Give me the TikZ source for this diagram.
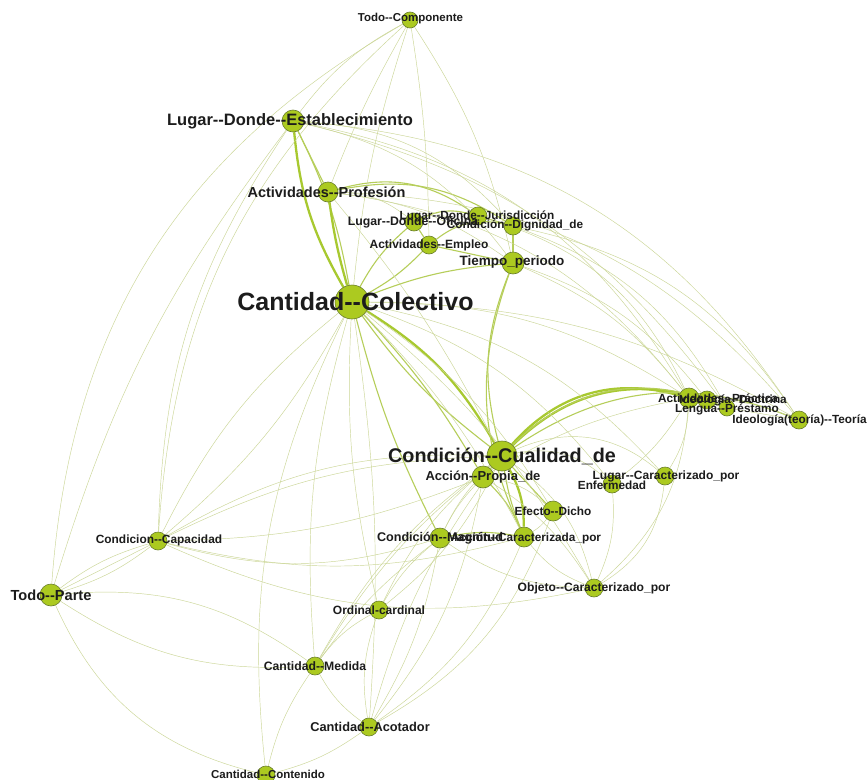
\documentclass[tikz,border=0pt]{standalone}
\usepackage{fontspec}
\setmainfont{Liberation Sans}
\pgfdeclarelayer{edges}
\pgfsetlayers{edges,main}

\definecolor{nodefill}{RGB}{172,202,32}
\definecolor{nodeline}{RGB}{105,125,45}
\definecolor{ethinc}{RGB}{203,214,150}
\definecolor{emidc}{RGB}{182,206,90}
\definecolor{ethickc}{RGB}{168,201,48}
\definecolor{labelc}{RGB}{28,28,28}

\tikzset{
  vtx/.style={circle,fill=nodefill,draw=nodeline,line width=0.6pt,inner sep=0pt,minimum size=#1},
  lbl/.style={font=\bfseries\fontsize{#1}{#1}\selectfont,text=labelc,inner sep=0pt},
  ethin/.style={draw=ethinc,line width=0.45pt},
  emid/.style={draw=emidc,line width=1.1pt},
  ethick/.style={draw=ethickc,line width=2.3pt},
}

\begin{document}
\begin{tikzpicture}[x=1pt,y=-1pt]
\useasboundingbox (0,0) rectangle (867,779);

% vertices
\node[vtx=16pt] (tc)   at (410,20)  {};
\node[vtx=22pt] (lde)  at (293,121) {};
\node[vtx=20pt] (ap)   at (328,192) {};
\node[vtx=18pt] (ldo)  at (414,222) {};
\node[vtx=18pt] (ldj)  at (478,216) {};
\node[vtx=18pt] (cdd)  at (513,226) {};
\node[vtx=18pt] (ae)   at (429,245) {};
\node[vtx=22pt] (tp)   at (513,263) {};
\node[vtx=34pt] (cc)   at (352,302) {};
\node[vtx=20pt] (apr)  at (689,398) {};
\node[vtx=18pt] (idc)  at (707,400) {};
\node[vtx=16pt] (lp)   at (727,408) {};
\node[vtx=18pt] (itt)  at (799,420) {};
\node[vtx=30pt] (ccu)  at (502,456) {};
\node[vtx=22pt] (apd)  at (483,477) {};
\node[vtx=18pt] (lcp)  at (665,476) {};
\node[vtx=18pt] (enf)  at (612,484) {};
\node[vtx=20pt] (ed)   at (553,511) {};
\node[vtx=20pt] (cm)   at (440,538) {};
\node[vtx=20pt] (acp)  at (524,537) {};
\node[vtx=18pt] (ocp)  at (594,588) {};
\node[vtx=18pt] (ccap) at (158,541) {};
\node[vtx=22pt] (tpa)  at (51,595)  {};
\node[vtx=18pt] (oc)   at (379,610) {};
\node[vtx=18pt] (cme)  at (315,666) {};
\node[vtx=18pt] (cac)  at (369,727) {};
\node[vtx=18pt] (cco)  at (266,775) {};

% connections
\begin{pgfonlayer}{edges}
\fill[white] (0,0) rectangle (867,779);
% heavy links
\draw[ethick] (lde) to[bend right=12] (cc);
\draw[emid]   (lde) to[bend left=8] (cc);
\draw[ethick] (ap) to[bend right=4] (cc);
\draw[ethick] (cc) to[bend left=14] (ccu);
\draw[emid]   (cc) to[bend right=8] (ccu);
\draw[ethick] (ccu) to[bend left=32] (apr);
\draw[ethick] (ccu) to[bend left=30] (idc);
\draw[emid]   (ccu) to[bend left=34] (lp);
\draw[emid]   (ccu) to[bend left=28] (itt);
\draw[ethick] (ccu) to[bend left=14] (acp);
\draw[emid]   (ccu) to[bend right=6] (acp);
\draw[emid]   (tp) to[bend right=18] (ccu);
\draw[emid]   (tp) to[bend right=22] (acp);
\draw[emid]   (apd) to (ccu);
\draw[emid]   (cc) to[bend left=6] (apd);
\draw[emid]   (ae) to (tp);
\draw[emid]   (ldo) to[bend left=20] (ldj);
\draw[emid]   (ldj) to (cdd);
\draw[emid]   (ldo) to (ae);
\draw[emid]   (cdd) to (tp);
\draw[emid]   (ap) to[bend left=25] (ldj);
\draw[emid]   (ap) to[bend left=22] (cdd);
\draw[emid]   (ae) to[bend left=8] (cc);
\draw[emid]   (ldo) to[bend right=10] (cc);
\draw[emid]   (tp) to[bend right=8] (cc);
\draw[emid]   (ae) to[bend left=25] (cdd);
\draw[emid]   (apd) to[bend left=10] (acp);
\draw[emid]   (cm) to[bend left=10] (acp);
\draw[emid]   (ed) to (ccu);
\draw[emid]   (cc) to[bend right=6] (cm);
\draw[emid]   (lde) to (ap);
\draw[emid]   (apr) to (idc);
\draw[emid]   (idc) to (lp);

% light links
\draw[ethin] (tc) to[bend right=28] (tpa);
\draw[ethin] (tc) to[bend right=22] (ccap);
\draw[ethin] (tc) to[bend right=6] (cc);
\draw[ethin] (tc) to[bend left=4] (ae);
\draw[ethin] (tc) to[bend right=12] (lde);
\draw[ethin] (tc) to[bend left=10] (tp);
\draw[ethin] (tc) to[bend right=4] (ap);
\draw[ethin] (lde) to[bend right=16] (ccap);
\draw[ethin] (lde) to[bend right=10] (tpa);
\draw[ethin] (lde) to[bend left=22] (cdd);
\draw[ethin] (lde) to[bend left=20] (tp);
\draw[ethin] (lde) to[bend left=24] (apr);
\draw[ethin] (lde) to[bend left=26] (itt);
\draw[ethin] (lde) to[bend left=20] (lp);
\draw[ethin] (ap) to[bend left=22] (apr);
\draw[ethin] (ap) to[bend left=24] (itt);
\draw[ethin] (ap) to[bend left=14] (tp);
\draw[ethin] (ap) to[bend left=6] (ccu);
\draw[ethin] (ap) to[bend left=18] (ldo);
\draw[ethin] (cdd) to[bend left=22] (itt);
\draw[ethin] (cdd) to[bend left=20] (lp);
\draw[ethin] (ldj) to[bend left=24] (apr);
\draw[ethin] (tp) to[bend left=14] (apr);
\draw[ethin] (tp) to[bend left=16] (idc);
\draw[ethin] (cc) to[bend left=16] (apr);
\draw[ethin] (cc) to[bend left=14] (itt);
\draw[ethin] (cc) to[bend left=10] (ccap);
\draw[ethin] (cc) to[bend right=12] (ccap);
\draw[ethin] (cc) to[bend right=8] (oc);
\draw[ethin] (cc) to[bend right=10] (cme);
\draw[ethin] (cc) to[bend left=6] (cac);
\draw[ethin] (cc) to[bend right=16] (cco);
\draw[ethin] (cc) to[bend left=12] (ed);
\draw[ethin] (cc) to[bend left=10] (ocp);
\draw[ethin] (cc) to[bend left=8] (acp);
\draw[ethin] (cc) to[bend left=18] (lcp);
\draw[ethin] (cc) to[bend left=16] (enf);
\draw[ethin] (ccu) to[bend left=32] (lcp);
\draw[ethin] (ccu) to[bend left=26] (enf);
\draw[ethin] (ccu) to[bend left=20] (ocp);
\draw[ethin] (ccu) to[bend right=10] (cm);
\draw[ethin] (ccu) to[bend right=12] (oc);
\draw[ethin] (ccu) to[bend right=10] (cac);
\draw[ethin] (ccu) to[bend right=12] (cme);
\draw[ethin] (ccu) to[bend right=16] (ccap);
\draw[ethin] (apr) to[bend left=14] (lcp);
\draw[ethin] (apr) to[bend left=10] (enf);
\draw[ethin] (apr) to[bend left=22] (ocp);
\draw[ethin] (apr) to[bend right=10] (apd);
\draw[ethin] (lp) to (itt);
\draw[ethin] (idc) to[bend left=10] (itt);
\draw[ethin] (lcp) to[bend left=26] (ocp);
\draw[ethin] (enf) to[bend left=14] (ocp);
\draw[ethin] (apd) to[bend left=12] (ocp);
\draw[ethin] (apd) to[bend left=14] (cac);
\draw[ethin] (apd) to[bend right=8] (cm);
\draw[ethin] (apd) to[bend left=10] (ccap);
\draw[ethin] (apd) to[bend left=16] (ed);
\draw[ethin] (ccap) to[bend left=10] (tpa);
\draw[ethin] (ccap) to[bend right=10] (tpa);
\draw[ethin] (ccap) to (tpa);
\draw[ethin] (ccap) to[bend right=16] (cm);
\draw[ethin] (ccap) to[bend right=14] (acp);
\draw[ethin] (ccap) to[bend left=12] (ccu);
\draw[ethin] (ccap) to[bend right=18] (ocp);
\draw[ethin] (tpa) to[bend left=20] (cme);
\draw[ethin] (tpa) to[bend right=18] (cme);
\draw[ethin] (tpa) to[bend right=26] (cco);
\draw[ethin] (cme) to[bend left=12] (oc);
\draw[ethin] (cme) to[bend right=12] (cac);
\draw[ethin] (cme) to[bend right=10] (cco);
\draw[ethin] (cme) to[bend left=8] (cm);
\draw[ethin] (cme) to[bend left=10] (ccu);
\draw[ethin] (cac) to[bend left=10] (cco);
\draw[ethin] (cac) to[bend left=14] (oc);
\draw[ethin] (cac) to[bend right=10] (cm);
\draw[ethin] (cac) to[bend right=16] (acp);
\draw[ethin] (cac) to[bend right=20] (ed);
\draw[ethin] (oc) to[bend left=10] (cm);
\draw[ethin] (oc) to[bend right=12] (ccu);
\draw[ethin] (ed) to[bend left=10] (acp);
\draw[ethin] (acp) to[bend right=14] (ocp);
\draw[ethin] (cm) to[bend right=16] (ocp);
\end{pgfonlayer}

% labels
\node[lbl=11.5] (l-tc)   at (410.5,19)  {Todo-{}-Componente};
\node[lbl=16.5] (l-lde)  at (290,121)   {Lugar-{}-Donde-{}-Establecimiento};
\node[lbl=14.5] (l-ap)   at (326.5,192) {Actividades-{}-Profesión};
\node[lbl=12.3] (l-ldo)  at (413,222)   {Lugar-{}-Donde-{}-Oficina};
\node[lbl=11.8] (l-ldj)  at (477,216)   {Lugar-{}-Donde-{}-Jurisdicción};
\node[lbl=11.8] (l-cdd)  at (515,225)   {Condición-{}-Dignidad\_de};
\node[lbl=12]   (l-ae)   at (429,245)   {Actividades-{}-Empleo};
\node[lbl=13.5] (l-tp)   at (512,262)   {Tiempo\_periodo};
\node[lbl=25]   (l-cc)   at (355.5,302) {Cantidad-{}-Colectivo};
\node[lbl=11.8] (l-apr)  at (718,398)   {Actividades-{}-Práctica};
\node[lbl=11.8] (l-idc)  at (733,400)   {Ideología-{}-Doctrina};
\node[lbl=11.8] (l-lp)   at (727,409)   {Lengua-{}-Préstamo};
\node[lbl=11.8] (l-itt)  at (799.5,420) {Ideología(teoría)-{}-Teoría};
\node[lbl=19.8] (l-ccu)  at (502,456)   {Condición-{}-Cualidad\_de};
\node[lbl=13]   (l-apd)  at (483,477)   {Acción-{}-Propia\_de};
\node[lbl=12]   (l-lcp)  at (666,476)   {Lugar-{}-Caracterizado\_por};
\node[lbl=11.8] (l-enf)  at (612,485)   {Enfermedad};
\node[lbl=11.8] (l-ed)   at (553,511)   {Efecto-{}-Dicho};
\node[lbl=11.8] (l-acp)  at (526,538)   {Acción-{}-Caracterizada\_por};
\node[lbl=12.6] (l-cm)   at (440,538)   {Condición-{}-Magnitud};
\node[lbl=12.1] (l-ocp)  at (594,588)   {Objeto-{}-Caracterizado\_por};
\node[lbl=11.9] (l-ccap) at (159,540)   {Condicion-{}-Capacidad};
\node[lbl=14.6] (l-tpa)  at (51,595)    {Todo-{}-Parte};
\node[lbl=12]   (l-oc)   at (379,610)   {Ordinal-cardinal};
\node[lbl=12.2] (l-cme)  at (315,666)   {Cantidad-{}-Medida};
\node[lbl=12.8] (l-cac)  at (370,727)   {Cantidad-{}-Acotador};
\node[lbl=11.5] (l-cco)  at (268,774)   {Cantidad-{}-Contenido};
\end{tikzpicture}
\end{document}
